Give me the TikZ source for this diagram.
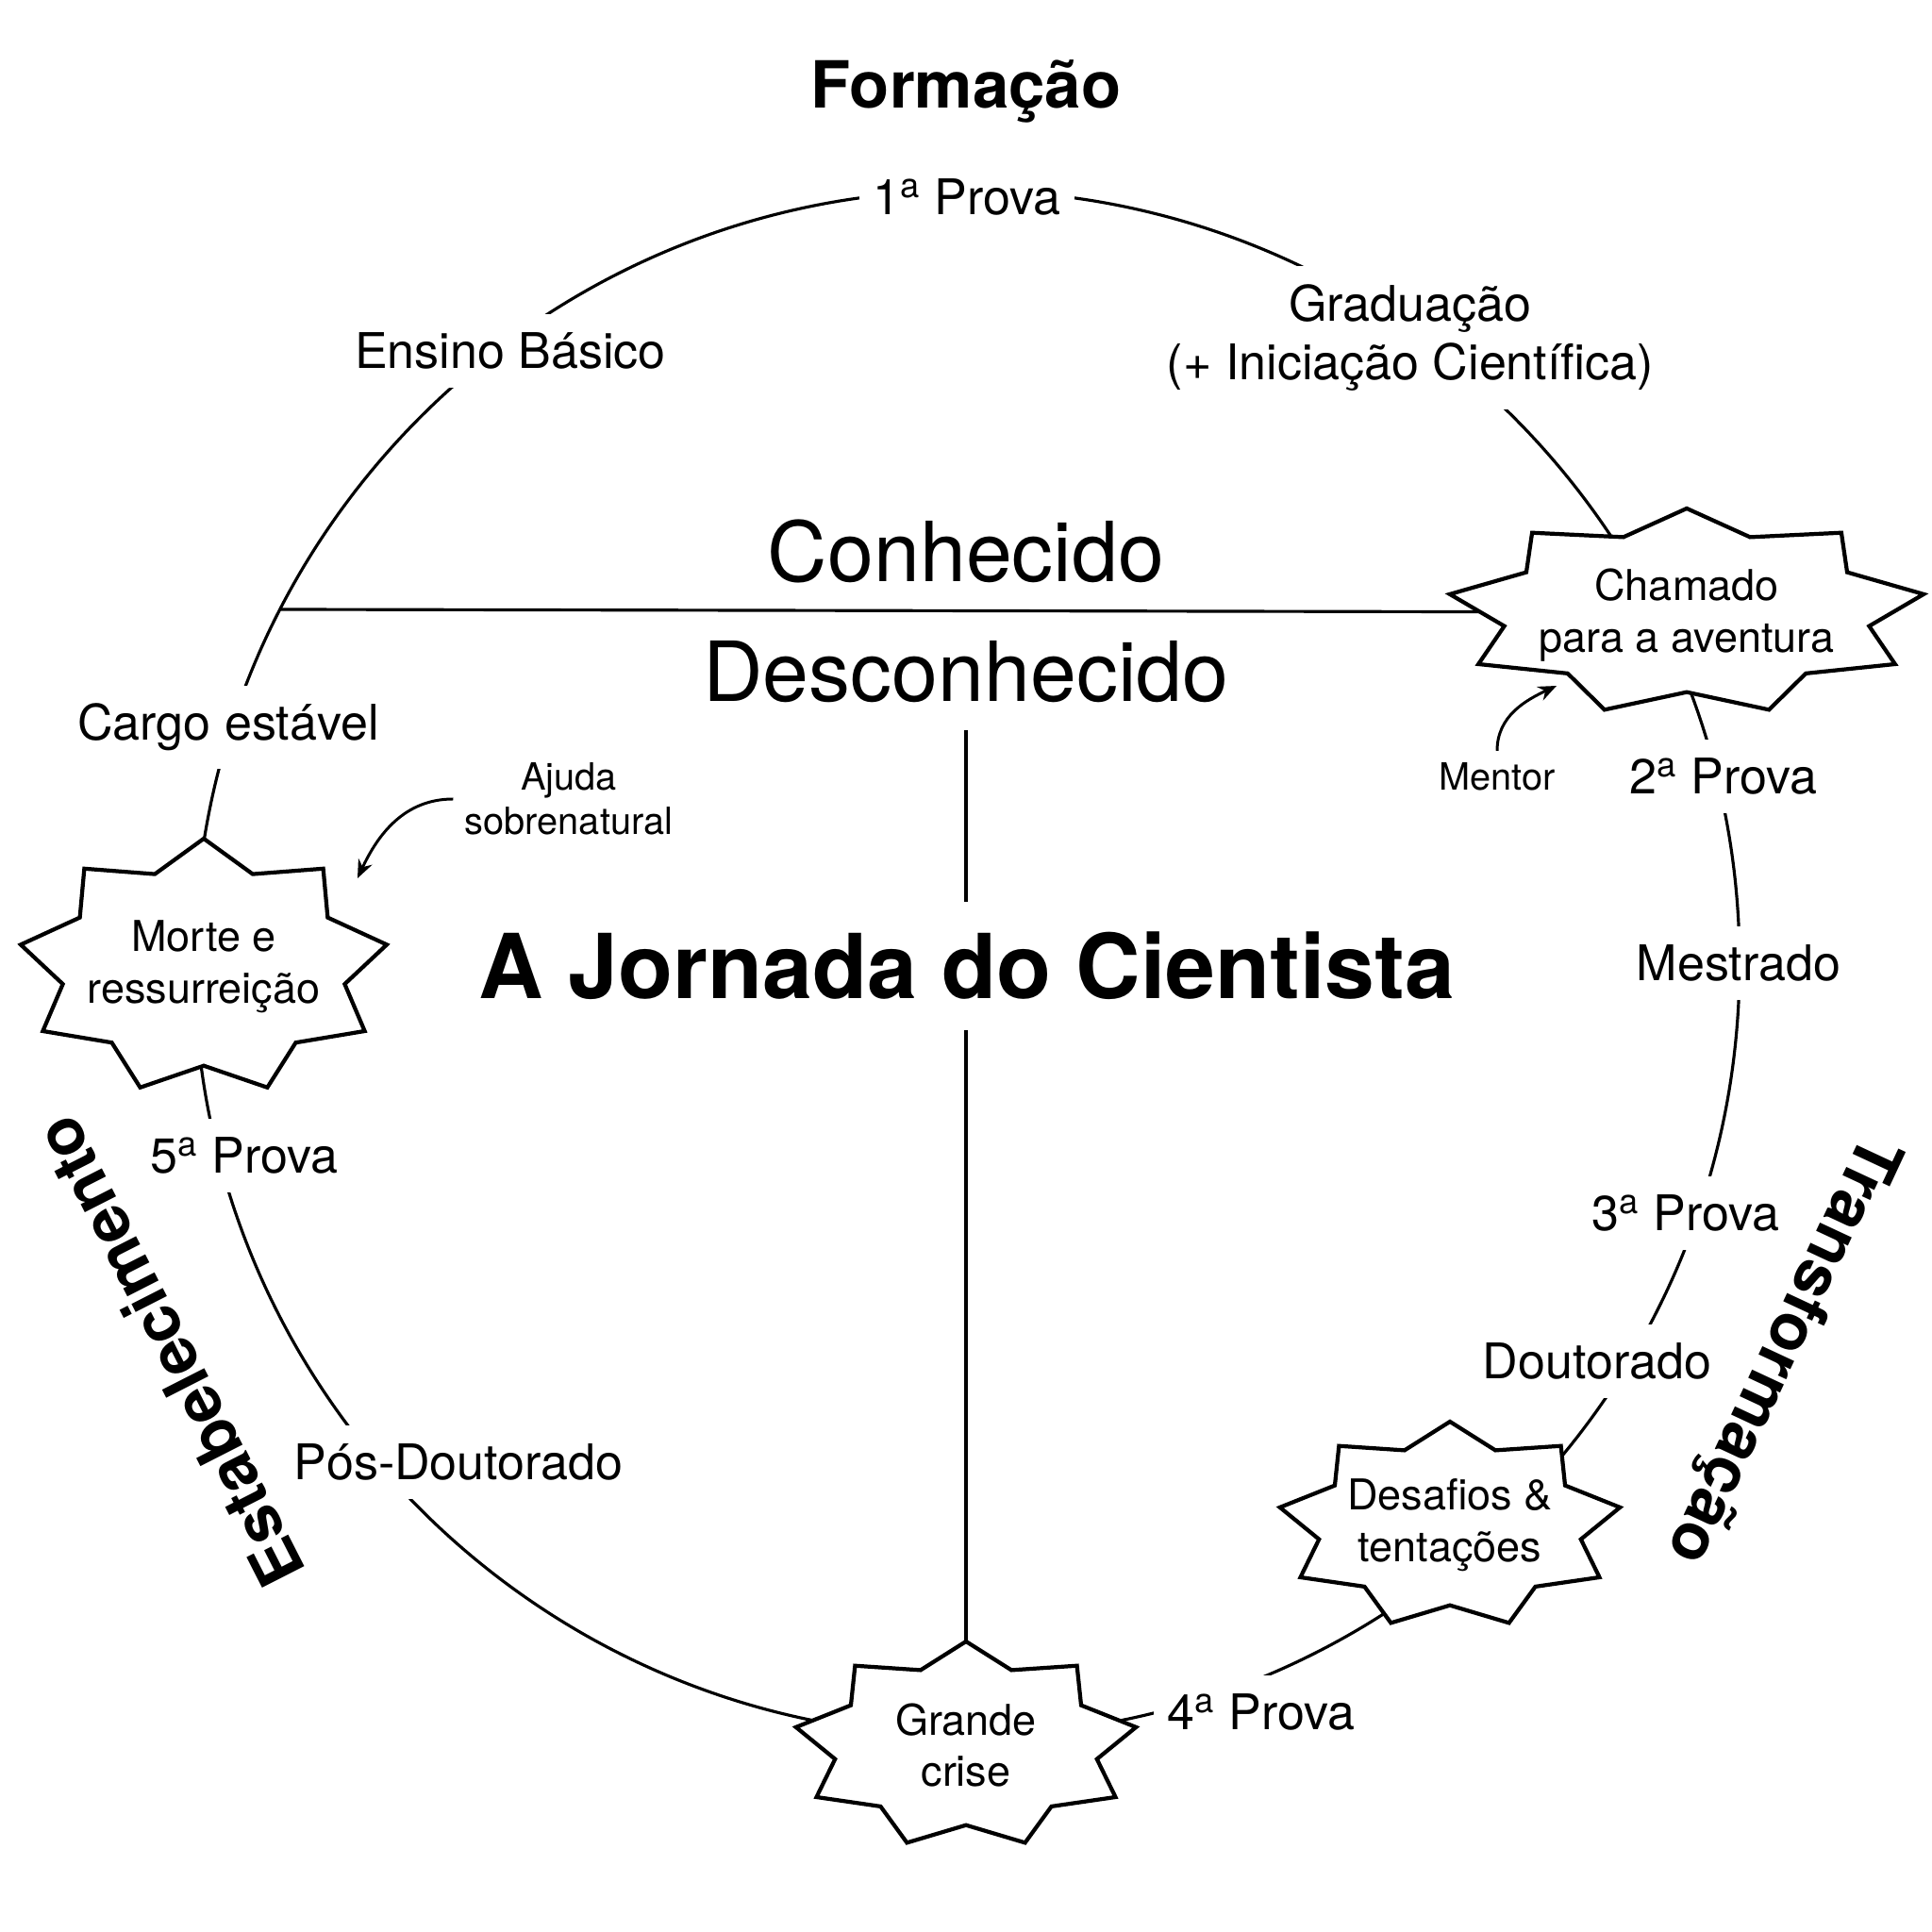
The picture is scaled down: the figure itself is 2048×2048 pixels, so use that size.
\documentclass[tikz,border=0pt]{standalone}
\usepackage{fontspec}
\setmainfont{TeX Gyre Heros}
\usetikzlibrary{calc,arrows.meta}

\newcommand{\burst}[3]{%
  \filldraw[burst] ($(#1)+(90:#2 and #3)$)
    \foreach \k [evaluate=\k as \f using {mod(\k,2)==0 ? 1 : 0.77}] in {1,...,17}
      { -- ($(#1)+({90+20*\k}:{\f*#2} and {\f*#3})$) } -- cycle;}

\begin{document}
\begin{tikzpicture}[x=0.01cm, y=0.01cm,
    ring/.style={line width=0.9pt},
    burst/.style={draw=black, fill=white, line width=1.2pt, line join=miter},
    stage/.style={fill=white, inner xsep=4pt, inner ysep=5.5pt, align=center, font=\fontsize{14.8}{17.8}\selectfont},
    bursttext/.style={align=center, font=\fontsize{12.8}{15.6}\selectfont},
    note/.style={align=center, font=\fontsize{11.3}{13.4}\selectfont},
    phase/.style={font=\fontsize{19.6}{23}\selectfont\bfseries},
    pointer/.style={line width=0.85pt, -{Stealth[length=5.5pt,width=4.5pt]}}]
        \useasboundingbox (0,0) rectangle (2048,2048);
        \coordinate (o) at (1025,1027);
        \coordinate (kw) at (297,1402);
        \coordinate (chamado) at (1788,1399);
        \coordinate (morte) at (216,1023);
        \coordinate (crise) at (1024,198);
        \coordinate (desafios) at (1537,431);

        \draw[ring] (o) circle (819);

        \node[font=\fontsize{25}{30}\selectfont] (conhecido) at (1024,1464) {Conhecido};
        \node[font=\fontsize{25}{30}\selectfont, inner ysep=8pt] (desconhecido) at (1024,1336) {Desconhecido};
        \draw[ring] (kw) -- (chamado);
        \draw[ring] (desconhecido.south) -- (crise);
        \node[fill=white, inner ysep=9pt, font=\fontsize{27}{32}\selectfont\bfseries] (jornada) at (1025,1024) {A Jornada do Cientista};

        \burst{chamado}{255}{110}
        \burst{morte}{197}{136}
        \burst{crise}{183}{110}
        \burst{desafios}{183}{110}
        \node[bursttext] (chamadotxt) at (1788,1396) {Chamado\\para a aventura};
        \node[bursttext] (mortetxt) at (morte) {Morte e\\ressurreição};
        \node[bursttext] (crisetxt) at (crise) {Grande\\crise};
        \node[bursttext] (desafiostxt) at (desafios) {Desafios \&\\tentações};

        \node[stage] (prova1) at (1025,1839) {1\textsuperscript{a} Prova};
        \node[stage] (ensino) at (541,1676) {Ensino Básico};
        \node[stage] (graduacao) at (1495,1690) {Graduação\\(+ Iniciação Científica)};
        \node[stage] (prova2) at (1827,1225) {2\textsuperscript{a} Prova};
        \node[stage] (mestrado) at (1843,1027) {Mestrado};
        \node[stage] (prova3) at (1787,762) {3\textsuperscript{a} Prova};
        \node[stage] (doutorado) at (1693,605) {Doutorado};
        \node[stage] (prova4) at (1337,233) {4\textsuperscript{a} Prova};
        \node[stage] (posdoc) at (486,498) {Pós-Doutorado};
        \node[stage] (prova5) at (259,823) {5\textsuperscript{a} Prova};
        \node[stage] (cargo) at (242,1277) {Cargo estável};

        \node[note] (mentor) at (1587,1225) {Mentor};
        \node[note] (ajuda) at (603,1201) {Ajuda\\sobrenatural};
        \coordinate (mentortip) at (1650,1321);
        \coordinate (ajudatip) at (379,1117);
        \draw[pointer] (mentor.north) to[out=90,in=205] (mentortip);
        \draw[pointer] (ajuda.west) to[out=180,in=65] (ajudatip);

        \node[phase] (formacao) at (1024,1951) {Formação};
        \node[phase, rotate=117] (estab) at (179,615) {Estabelecimento};
        \node[phase, rotate=-115] (transf) at (1887,618) {Transformação};
    \end{tikzpicture}
\end{document}
